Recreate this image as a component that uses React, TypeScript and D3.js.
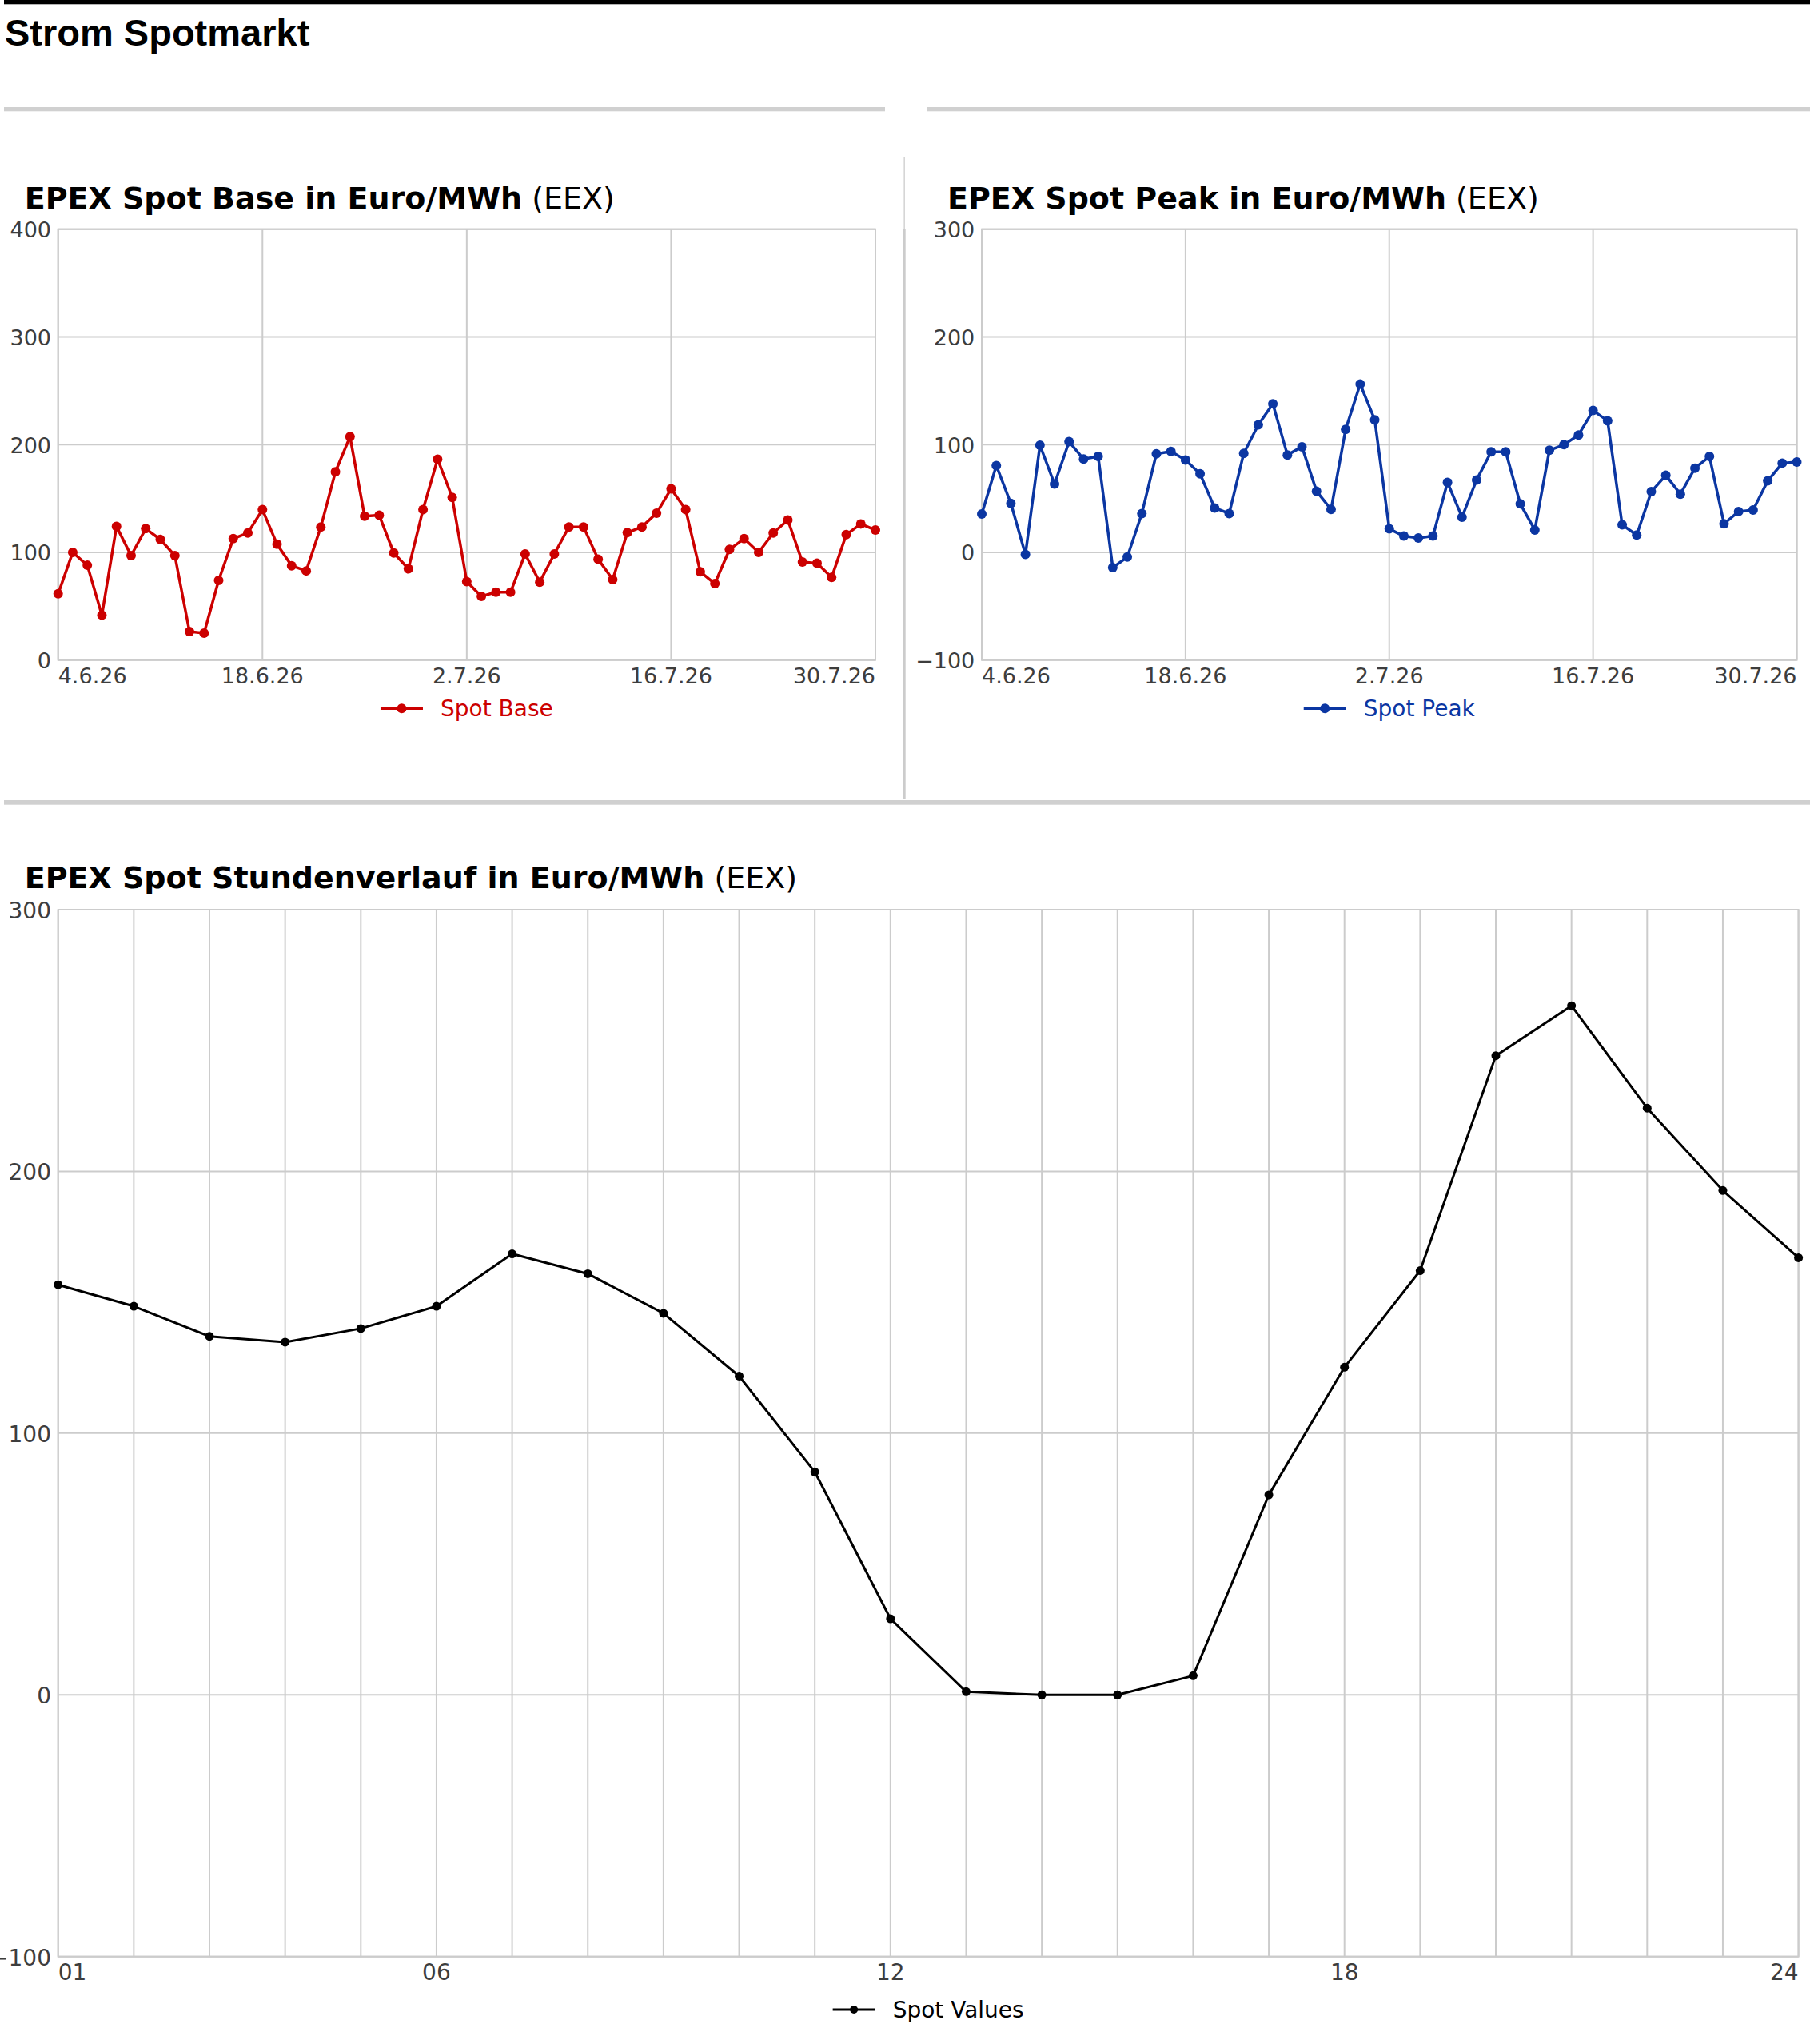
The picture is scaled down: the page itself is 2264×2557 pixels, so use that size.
import React, { useEffect, useRef } from "react";
import * as d3 from "d3";

// ---------- data ----------
const dayStart = new Date(Date.UTC(2026, 5, 4));
const dayEnd = new Date(Date.UTC(2026, 6, 31));
const days: Date[] = d3.utcDay.range(dayStart, dayEnd); // 4.6.26 .. 30.7.26

const baseValues = [
  61.5, 100, 88, 41.7, 124, 97, 122, 112, 97, 26.5,
  25, 74, 112.7, 118, 139.6, 107.5, 87.6, 82.8, 123.6, 174.7,
  207.3, 133.5, 134.4, 99.4, 84.7, 139.6, 186.5, 151, 72.9, 59.2,
  63, 63, 98.5, 72.4, 98.5, 123.6, 123.6, 93.7, 74.8, 118.3,
  123.6, 136.3, 159, 139.6, 81.9, 71, 102.7, 112.7, 100, 118,
  130, 91, 90, 76.7, 116.4, 126.4, 120.7,
];

const peakValues = [
  35.5, 80.5, 45.4, -1.9, 99.4, 63.4, 102.7, 86.6, 89, -14.2,
  -4.3, 36, 91.4, 93.7, 85.7, 72.9, 41.2, 36, 91.8, 118.3,
  137.8, 90.4, 98, 56.8, 39.8, 114, 156.2, 123, 21.8, 15.1,
  13.3, 15.1, 64.9, 32.7, 67.2, 93.3, 93.3, 45, 20.8, 94.7,
  99.9, 108.9, 131.6, 122.1, 25.6, 16.1, 56.3, 71.5, 54, 78.1,
  89, 26.5, 37.9, 39.3, 66.3, 82.8, 83.8,
];

const dateTicks = [
  new Date(Date.UTC(2026, 5, 4)),
  new Date(Date.UTC(2026, 5, 18)),
  new Date(Date.UTC(2026, 6, 2)),
  new Date(Date.UTC(2026, 6, 16)),
  new Date(Date.UTC(2026, 6, 30)),
];

const baseYTicks = [0, 100, 200, 300, 400];
const peakYTicks = [-100, 0, 100, 200, 300];

const hours = [
  "01", "02", "03", "04", "05", "06", "07", "08", "09", "10", "11", "12",
  "13", "14", "15", "16", "17", "18", "19", "20", "21", "22", "23", "24",
];
const hourValues = [
  156.7, 148.5, 137, 134.8, 140, 148.5, 168.5, 160.9, 145.8, 121.8, 85.2, 29.1,
  1.2, 0, 0, 7.3, 76.4, 125.2, 162.1, 244.2, 263.3, 224.2, 192.7, 167,
];
const hourLabels = ["01", "06", "12", "18", "24"];
const hourYTicks = [-100, 0, 100, 200, 300];

// ---------- styles ----------
const W = 2264;
const H = 2557;
const FONT = "'DejaVu Sans', sans-serif";
const GRID = "#cccccc";
const LABEL = "#3d3d3d";
const RED = "#cc0000";
const BLUE = "#0b36a2";

type Sel = d3.Selection<SVGGElement, unknown, null, undefined>;

function drawTitle(g: Sel, x: number, y: number, bold: string) {
  const t = g
    .append("text")
    .attr("x", x)
    .attr("y", y)
    .attr("font-family", FONT)
    .attr("font-size", 38)
    .attr("fill", "#000")
    .style("white-space", "pre");
  t.append("tspan").attr("font-weight", "bold").text(bold);
  t.append("tspan").attr("font-weight", "normal").text(" (EEX)");
}

function drawLegend(
  g: Sel,
  cx: number,
  y: number,
  color: string,
  textColor: string,
  label: string,
  r: number,
  lw: number
) {
  const lg = g.append("g");
  const txt = lg
    .append("text")
    .attr("font-family", FONT)
    .attr("font-size", 28)
    .attr("fill", textColor)
    .attr("y", y + 10)
    .text(label);
  const tw = (txt.node() as SVGTextElement).getComputedTextLength();
  const total = 53 + 22 + tw;
  const x0 = cx - total / 2;
  lg.append("line")
    .attr("x1", x0)
    .attr("x2", x0 + 53)
    .attr("y1", y)
    .attr("y2", y)
    .attr("stroke", color)
    .attr("stroke-width", lw);
  lg.append("circle").attr("cx", x0 + 26.5).attr("cy", y).attr("r", r).attr("fill", color);
  txt.attr("x", x0 + 75);
}

function drawDailyChart(
  g: Sel,
  x0: number,
  x1: number,
  yTop: number,
  yBot: number,
  yTicks: number[],
  values: number[],
  color: string,
  label: string
) {
  const x = d3.scaleUtc().domain([days[0], days[days.length - 1]]).range([x0, x1]);
  const y = d3
    .scaleLinear()
    .domain([yTicks[0], yTicks[yTicks.length - 1]])
    .range([yBot, yTop]);

  // horizontal grid
  g.selectAll(null)
    .data(yTicks)
    .enter()
    .append("line")
    .attr("x1", x0)
    .attr("x2", x1)
    .attr("y1", (d) => y(d))
    .attr("y2", (d) => y(d))
    .attr("stroke", GRID)
    .attr("stroke-width", 2);
  // vertical grid at date ticks
  g.selectAll(null)
    .data(dateTicks)
    .enter()
    .append("line")
    .attr("x1", (d) => x(d))
    .attr("x2", (d) => x(d))
    .attr("y1", yTop)
    .attr("y2", yBot)
    .attr("stroke", GRID)
    .attr("stroke-width", 2);
  g.append("rect")
    .attr("x", x0)
    .attr("y", yTop)
    .attr("width", x1 - x0)
    .attr("height", yBot - yTop)
    .attr("fill", "none")
    .attr("stroke", GRID)
    .attr("stroke-width", 2);

  const fmtY = d3.format("d");
  g.selectAll(null)
    .data(yTicks)
    .enter()
    .append("text")
    .attr("x", x0 - 8.7)
    .attr("y", (d) => y(d) + 10.5)
    .attr("text-anchor", "end")
    .attr("font-family", FONT)
    .attr("font-size", 27)
    .attr("fill", LABEL)
    .text((d) => fmtY(d));

  const fmtX = d3.utcFormat("%-d.%-m.%y");
  g.selectAll(null)
    .data(dateTicks)
    .enter()
    .append("text")
    .attr("x", (d) => x(d))
    .attr("y", yBot + 29.3)
    .attr("text-anchor", (_d, i) => (i === 0 ? "start" : i === dateTicks.length - 1 ? "end" : "middle"))
    .attr("font-family", FONT)
    .attr("font-size", 27)
    .attr("fill", LABEL)
    .text((d) => fmtX(d));

  const line = d3
    .line<number>()
    .x((_d, i) => x(days[i]))
    .y((d) => y(d));
  g.append("path")
    .attr("d", line(values) as string)
    .attr("fill", "none")
    .attr("stroke", color)
    .attr("stroke-width", 3.5)
    .attr("stroke-linejoin", "round");
  g.selectAll(null)
    .data(values)
    .enter()
    .append("circle")
    .attr("cx", (_d, i) => x(days[i]))
    .attr("cy", (d) => y(d))
    .attr("r", 6)
    .attr("fill", color);

  drawLegend(g, (x0 + x1) / 2, yBot + 60.6, color, color, label, 6, 3.5);
}

function drawHourlyChart(g: Sel) {
  const x0 = 72.7;
  const x1 = 2249.6;
  const yTop = 1138;
  const yBot = 2447.7;
  const x = d3.scalePoint<string>().domain(hours).range([x0, x1]);
  const y = d3.scaleLinear().domain([-100, 300]).range([yBot, yTop]);

  g.selectAll(null)
    .data(hourYTicks)
    .enter()
    .append("line")
    .attr("x1", x0)
    .attr("x2", x1)
    .attr("y1", (d) => y(d))
    .attr("y2", (d) => y(d))
    .attr("stroke", GRID)
    .attr("stroke-width", 2);
  g.selectAll(null)
    .data(hours)
    .enter()
    .append("line")
    .attr("x1", (d) => x(d) as number)
    .attr("x2", (d) => x(d) as number)
    .attr("y1", yTop)
    .attr("y2", yBot)
    .attr("stroke", GRID)
    .attr("stroke-width", 2);
  g.append("rect")
    .attr("x", x0)
    .attr("y", yTop)
    .attr("width", x1 - x0)
    .attr("height", yBot - yTop)
    .attr("fill", "none")
    .attr("stroke", GRID)
    .attr("stroke-width", 2);

  const fmtY = d3.format("d");
  g.selectAll(null)
    .data(hourYTicks)
    .enter()
    .append("text")
    .attr("x", x0 - 8.7)
    .attr("y", (d) => y(d) + 11)
    .attr("text-anchor", "end")
    .attr("font-family", FONT)
    .attr("font-size", 28)
    .attr("fill", LABEL)
    .text((d) => fmtY(d));

  g.selectAll(null)
    .data(hourLabels)
    .enter()
    .append("text")
    .attr("x", (d) => x(d) as number)
    .attr("y", yBot + 29.6)
    .attr("text-anchor", (_d, i) => (i === 0 ? "start" : i === hourLabels.length - 1 ? "end" : "middle"))
    .attr("font-family", FONT)
    .attr("font-size", 28)
    .attr("fill", LABEL)
    .text((d) => d);

  const line = d3
    .line<number>()
    .x((_d, i) => x(hours[i]) as number)
    .y((d) => y(d));
  g.append("path")
    .attr("d", line(hourValues) as string)
    .attr("fill", "none")
    .attr("stroke", "#000")
    .attr("stroke-width", 3)
    .attr("stroke-linejoin", "round");
  g.selectAll(null)
    .data(hourValues)
    .enter()
    .append("circle")
    .attr("cx", (_d, i) => x(hours[i]) as number)
    .attr("cy", (d) => y(d))
    .attr("r", 5.5)
    .attr("fill", "#000");

  drawLegend(g, (x0 + x1) / 2, 2514, "#000", "#000", "Spot Values", 5, 3);
}

export default function App() {
  const ref = useRef<SVGSVGElement | null>(null);

  useEffect(() => {
    if (!ref.current) return;
    const svg = d3.select(ref.current);
    svg.selectAll("*").remove();
    const g = svg.append("g") as unknown as Sel;

    // page chrome
    g.append("rect").attr("x", 5).attr("y", 0).attr("width", W - 5).attr("height", 5.3).attr("fill", "#000");
    g.append("text")
      .attr("x", 6)
      .attr("y", 57.3)
      .attr("font-family", "'Liberation Sans', Arial, sans-serif")
      .attr("font-weight", "bold")
      .attr("font-size", 47)
      .attr("fill", "#000")
      .text("Strom Spotmarkt");
    g.append("rect").attr("x", 5).attr("y", 134).attr("width", 1102).attr("height", 5.3).attr("fill", "#d0d0d0");
    g.append("rect").attr("x", 1159).attr("y", 134).attr("width", W - 1159).attr("height", 5.3).attr("fill", "#d0d0d0");
    g.append("rect").attr("x", 1130.5).attr("y", 196).attr("width", 1.3).attr("height", 91).attr("fill", "#cccccc");
    g.append("rect").attr("x", 1129.5).attr("y", 287).attr("width", 3.2).attr("height", 713).attr("fill", "#cccccc");
    g.append("rect").attr("x", 5).attr("y", 1001).attr("width", W - 5).attr("height", 5.7).attr("fill", "#d0d0d0");

    // top charts
    drawTitle(g, 30.7, 260.5, "EPEX Spot Base in Euro/MWh");
    drawDailyChart(g, 72.7, 1095, 286.7, 825.7, baseYTicks, baseValues, RED, "Spot Base");

    drawTitle(g, 1185, 260.5, "EPEX Spot Peak in Euro/MWh");
    drawDailyChart(g, 1228, 2247.5, 286.7, 825.7, peakYTicks, peakValues, BLUE, "Spot Peak");

    // bottom chart
    drawTitle(g, 30.7, 1111, "EPEX Spot Stundenverlauf in Euro/MWh");
    drawHourlyChart(g);
  }, []);

  return (
    <svg
      ref={ref}
      width={W}
      height={H}
      viewBox={`0 0 ${W} ${H}`}
      style={{ position: "absolute", left: 0, top: 0, background: "#fff", display: "block" }}
    />
  );
}
